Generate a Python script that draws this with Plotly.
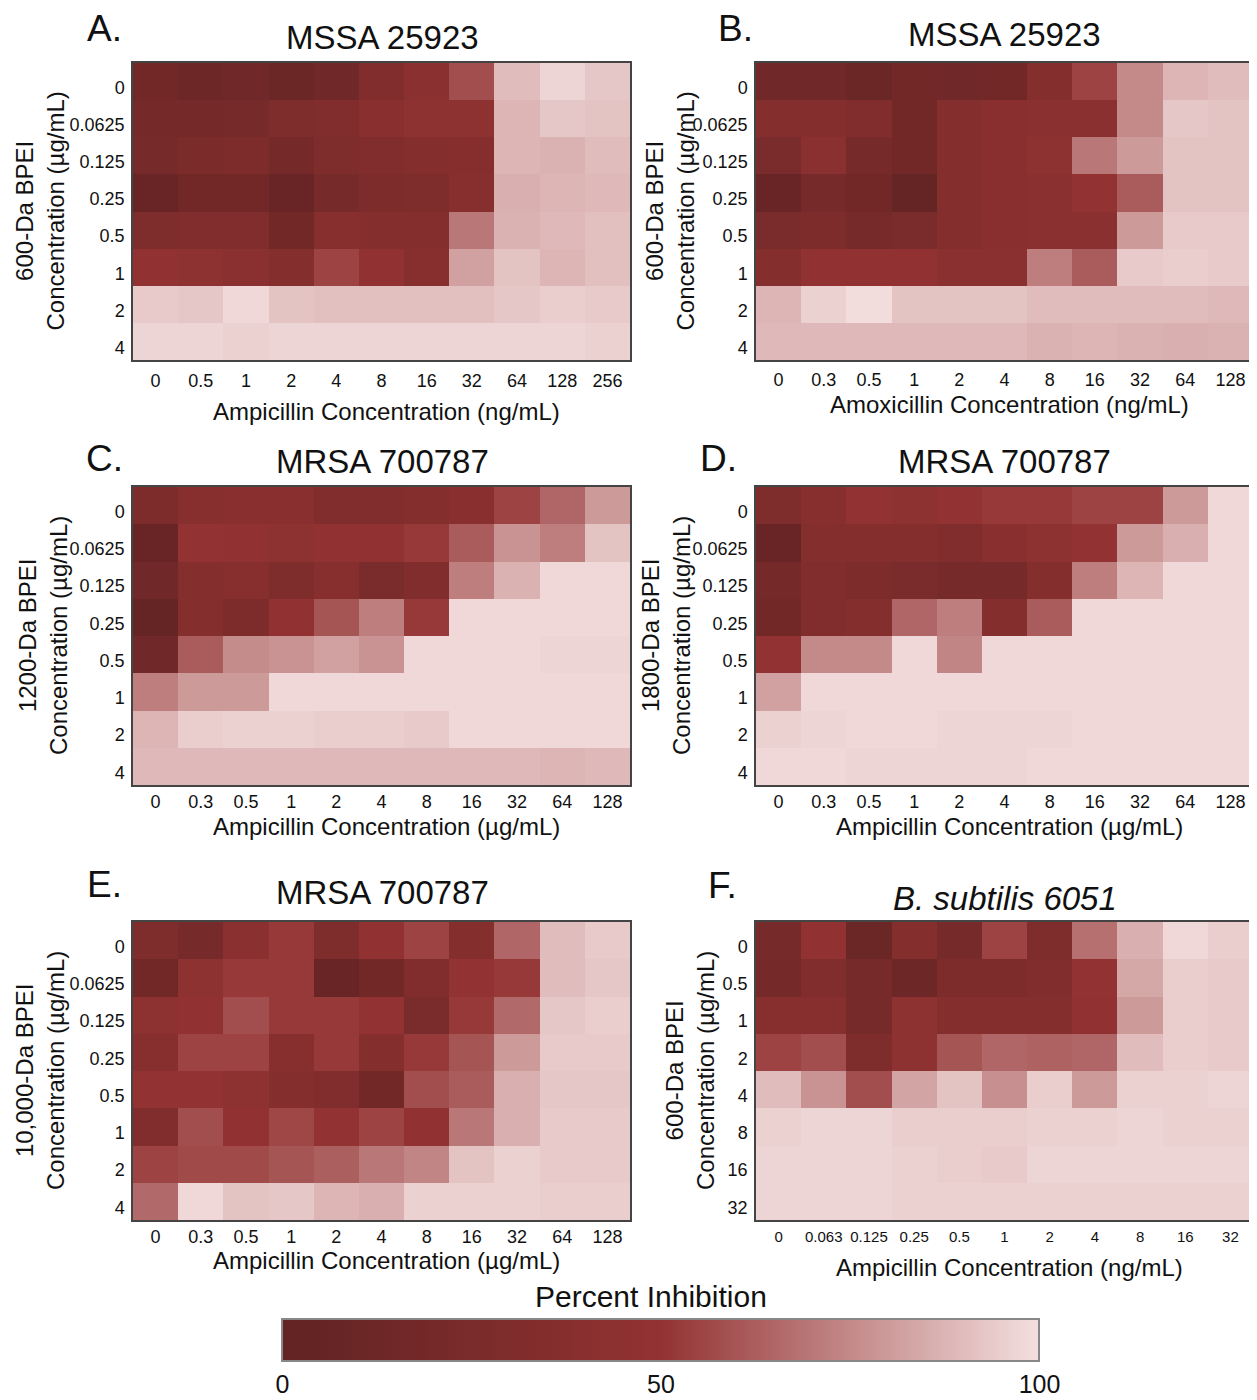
import plotly.graph_objects as go

# page body has an 8px default margin, so the figure is drawn 8px in from the top-left
OFF = 8
W, H = 1257 - OFF, 1400 - OFF
FONT = "Liberation Sans, Arial, sans-serif"

# ---------------- data ----------------
bpei_rows = ["0", "0.0625", "0.125", "0.25", "0.5", "1", "2", "4"]
bpei_rows_f = ["0", "0.5", "1", "2", "4", "8", "16", "32"]
amp_cols_a = ["0", "0.5", "1", "2", "4", "8", "16", "32", "64", "128", "256"]
amx_cols_b = ["0", "0.3", "0.5", "1", "2", "4", "8", "16", "32", "64", "128"]
amp_cols_cde = ["0", "0.3", "0.5", "1", "2", "4", "8", "16", "32", "64", "128"]
amp_cols_f = ["0", "0.063", "0.125", "0.25", "0.5", "1", "2", "4", "8", "16", "32"]

z_a = [
    [18, 12, 15, 10, 15, 32, 42, 58, 90, 97, 93],
    [20, 20, 22, 30, 33, 40, 45, 45, 88, 93, 92],
    [22, 27, 28, 20, 30, 32, 35, 37, 88, 87, 90],
    [8, 18, 18, 8, 22, 28, 30, 38, 86, 88, 89],
    [30, 32, 32, 18, 38, 35, 35, 70, 87, 89, 91],
    [48, 45, 42, 35, 55, 48, 38, 82, 92, 88, 91],
    [94, 93, 98, 92, 91, 91, 91, 91, 93, 95, 94],
    [97, 97, 96, 97, 97, 97, 97, 97, 97, 97, 96],
]
z_b = [
    [15, 15, 10, 18, 16, 18, 35, 55, 75, 88, 90],
    [35, 35, 32, 18, 35, 40, 42, 42, 75, 93, 92],
    [25, 42, 22, 18, 35, 40, 45, 70, 80, 92, 92],
    [8, 22, 18, 5, 35, 40, 42, 50, 62, 92, 92],
    [25, 28, 22, 25, 35, 40, 42, 42, 80, 94, 94],
    [35, 48, 48, 48, 42, 42, 72, 62, 94, 95, 94],
    [88, 96, 99, 92, 92, 92, 90, 90, 90, 90, 89],
    [89, 89, 89, 89, 89, 89, 87, 88, 87, 86, 87],
]
z_c = [
    [28, 38, 40, 40, 32, 32, 35, 40, 55, 65, 80],
    [8, 50, 48, 45, 48, 48, 52, 62, 78, 72, 92],
    [15, 35, 38, 30, 38, 25, 32, 72, 87, 98, 98],
    [5, 35, 28, 48, 60, 72, 52, 98, 98, 98, 98],
    [15, 62, 76, 78, 82, 78, 98, 98, 98, 97, 97],
    [72, 80, 80, 98, 98, 98, 98, 98, 98, 98, 98],
    [88, 95, 96, 96, 95, 95, 94, 98, 98, 98, 98],
    [89, 89, 89, 89, 89, 89, 89, 89, 89, 88, 89],
]
z_d = [
    [30, 38, 50, 45, 50, 52, 52, 55, 55, 80, 98],
    [8, 35, 35, 35, 32, 40, 45, 50, 80, 86, 98],
    [20, 32, 28, 25, 22, 22, 35, 72, 88, 98, 98],
    [18, 32, 35, 65, 72, 35, 62, 98, 98, 98, 98],
    [50, 75, 75, 98, 74, 98, 98, 98, 98, 98, 98],
    [82, 98, 98, 98, 98, 98, 98, 98, 98, 98, 98],
    [96, 97, 98, 98, 97, 97, 97, 98, 98, 98, 98],
    [98, 98, 97, 97, 97, 97, 98, 98, 98, 98, 98],
]
z_e = [
    [30, 22, 42, 52, 30, 48, 55, 35, 65, 90, 94],
    [18, 45, 52, 52, 8, 18, 32, 50, 52, 90, 93],
    [45, 48, 58, 52, 52, 50, 25, 52, 66, 93, 95],
    [38, 55, 55, 38, 52, 35, 52, 60, 80, 94, 94],
    [50, 50, 45, 35, 32, 18, 58, 62, 86, 93, 93],
    [32, 58, 48, 56, 50, 55, 48, 70, 86, 94, 94],
    [55, 57, 57, 60, 63, 70, 74, 92, 96, 94, 94],
    [66, 98, 92, 93, 88, 86, 96, 96, 96, 95, 95],
]
z_f = [
    [22, 48, 10, 35, 22, 55, 30, 68, 86, 98, 95],
    [20, 32, 22, 12, 28, 28, 32, 50, 84, 95, 94],
    [38, 38, 22, 45, 35, 35, 35, 48, 80, 95, 94],
    [55, 58, 30, 45, 60, 65, 64, 65, 90, 95, 94],
    [90, 78, 58, 83, 92, 77, 95, 80, 96, 96, 97],
    [96, 97, 97, 95, 95, 95, 96, 96, 97, 96, 96],
    [97, 97, 97, 96, 95, 94, 97, 97, 97, 97, 97],
    [97, 97, 97, 96, 96, 96, 96, 96, 96, 96, 96],
]

colorbar_ticks = [0, 50, 100]

# ---------------- helpers (page pixels -> paper fraction) ----------------
def px_x(x):
    return (x - OFF) / W

def px_y(y):
    return 1 - (y - OFF) / H

colorscale = [[0.0, "#612323"], [0.5, "#933232"], [1.0, "#f4dfdf"]]

panels = [
    dict(z=z_a, x=amp_cols_a, y=bpei_rows, box=(133, 63, 630, 360), letter="A.", lpos=(104, 28),
         title="MSSA 25923", tpos=(382, 37), xt="Ampicillin Concentration (ng/mL)", xtpos=(386, 411),
         yt="600-Da BPEI<br>Concentration (µg/mL)", ytx=40, xfs=18, so=4),
    dict(z=z_b, x=amx_cols_b, y=bpei_rows, box=(756, 63, 1253, 360), letter="B.", lpos=(735, 28),
         title="MSSA 25923", tpos=(1005, 35), xt="Amoxicillin Concentration (ng/mL)", xtpos=(1009, 404),
         yt="600-Da BPEI<br>Concentration (µg/mL)", ytx=670, xfs=18, so=3),
    dict(z=z_c, x=amp_cols_cde, y=bpei_rows, box=(133, 487, 630, 785), letter="C.", lpos=(104, 458),
         title="MRSA 700787", tpos=(382, 461), xt="Ampicillin Concentration (µg/mL)", xtpos=(386, 826),
         yt="1200-Da BPEI<br>Concentration (µg/mL)", ytx=43, xfs=18, so=0),
    dict(z=z_d, x=amp_cols_cde, y=bpei_rows, box=(756, 487, 1253, 785), letter="D.", lpos=(718, 458),
         title="MRSA 700787", tpos=(1005, 462), xt="Ampicillin Concentration (µg/mL)", xtpos=(1009, 826),
         yt="1800-Da BPEI<br>Concentration (µg/mL)", ytx=666, xfs=18, so=0),
    dict(z=z_e, x=amp_cols_cde, y=bpei_rows, box=(133, 922, 630, 1220), letter="E.", lpos=(104, 884),
         title="MRSA 700787", tpos=(382, 892), xt="Ampicillin Concentration (µg/mL)", xtpos=(386, 1260),
         yt="10,000-Da BPEI<br>Concentration (µg/mL)", ytx=40, xfs=18, so=0),
    dict(z=z_f, x=amp_cols_f, y=bpei_rows_f, box=(756, 922, 1253, 1220), letter="F.", lpos=(722, 885),
         title="<i>B. subtilis 6051</i>", tpos=(1005, 898), xt="Ampicillin Concentration (ng/mL)", xtpos=(1009, 1267),
         yt="600-Da BPEI<br>Concentration (µg/mL)", ytx=690, xfs=15, so=2),
]

fig = go.Figure()
annotations = []
layout_axes = {}

def ann(text, x, y, size, angle=0):
    return dict(text=text, x=px_x(x), y=px_y(y), xref="paper", yref="paper",
                xanchor="center", yanchor="middle", showarrow=False, textangle=angle,
                font=dict(family=FONT, size=size, color="#111"))

for i, p in enumerate(panels):
    n = i + 1
    xa = "x" if n == 1 else f"x{n}"
    ya = "y" if n == 1 else f"y{n}"
    fig.add_trace(go.Heatmap(
        z=p["z"], x=p["x"], y=p["y"], xaxis=xa, yaxis=ya,
        coloraxis="coloraxis",
    ))
    x0, y0, x1, y1 = p["box"]
    xkey = "xaxis" if n == 1 else f"xaxis{n}"
    ykey = "yaxis" if n == 1 else f"yaxis{n}"
    layout_axes[xkey] = dict(
        domain=[px_x(x0), px_x(x1)], anchor=ya, type="category",
        showline=True, mirror=True, linecolor="#444", linewidth=1.5,
        ticks="", showgrid=False, zeroline=False,
        tickfont=dict(family=FONT, size=p["xfs"], color="#111"),
        ticklabelstandoff=p["so"],
    )
    layout_axes[ykey] = dict(
        domain=[px_y(y1), px_y(y0)], anchor=xa, type="category",
        autorange="reversed",
        showline=True, mirror=True, linecolor="#444", linewidth=1.5,
        ticks="", showgrid=False, zeroline=False,
        tickfont=dict(family=FONT, size=18, color="#111"),
        ticklabelstandoff=3, ticklabelshift=-6,
    )
    annotations.append(ann(p["letter"], p["lpos"][0], p["lpos"][1], 37))
    annotations.append(ann(p["title"], p["tpos"][0], p["tpos"][1], 33))
    annotations.append(ann(p["xt"], p["xtpos"][0], p["xtpos"][1], 24))
    annotations.append(ann(p["yt"], p["ytx"], (y0 + y1) / 2, 24, angle=-90))

annotations.append(ann("Percent Inhibition", 651, 1296, 30))

fig.update_layout(
    width=W, height=H,
    margin=dict(l=0, r=0, t=0, b=0),
    paper_bgcolor="white", plot_bgcolor="white",
    annotations=annotations,
    coloraxis=dict(
        colorscale=colorscale, cmin=0, cmax=100,
        colorbar=dict(
            orientation="h", x=px_x(661), xanchor="center",
            y=px_y(1355), yanchor="middle",
            len=757 / W, lenmode="fraction", thickness=42, thicknessmode="pixels",
            xpad=0, ypad=0,
            outlinecolor="#888", outlinewidth=2,
            tickvals=colorbar_ticks, ticktext=[str(v) for v in colorbar_ticks],
            ticks="", tickfont=dict(family=FONT, size=25, color="#111"),
        ),
    ),
    **layout_axes,
)

fig.write_html("out.html")
